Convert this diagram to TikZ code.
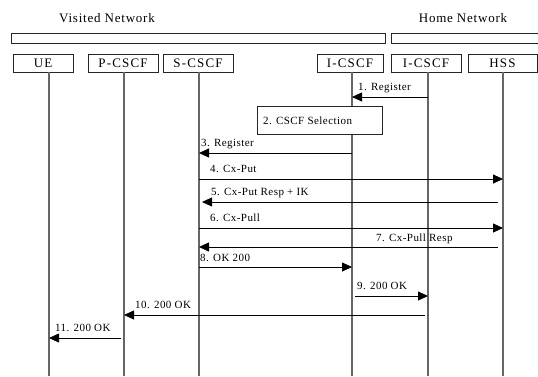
\documentclass[tikz,border=0pt]{standalone}
\usepackage{fontspec}
\setmainfont{Liberation Serif}
\usetikzlibrary{arrows.meta}
\begin{document}
\begin{tikzpicture}[x=1pt,y=-1pt,
  ent/.style={draw=black!85,line width=0.8pt,minimum height=18pt,inner sep=0pt,font=\fontsize{13}{13}\selectfont\addfontfeature{LetterSpace=9}},
  bar/.style={draw=black!85,line width=0.8pt},
  life/.style={draw=black!60,line width=1.3pt},
  msg/.style={draw=black,line width=0.8pt,-{Triangle[length=10pt,width=9pt]}},
  lbl/.style={anchor=base west,inner sep=0pt,font=\fontsize{11}{11}\selectfont\addfontfeature{LetterSpace=4}},
  hdr/.style={inner sep=0pt,font=\fontsize{13}{13}\selectfont\addfontfeature{LetterSpace=6}}]
\useasboundingbox (0,0) rectangle (538,376);
% headers
\node[hdr] (vn) at (107,18) {Visited Network};
\node[hdr] (hn) at (463,18) {Home Network};
\draw[bar] (11,33) rectangle (385,43);
\draw[bar] (391,33) rectangle (545,43);
% entity boxes
\node[ent,minimum width=60pt] (ue) at (43,63) {UE};
\node[ent,minimum width=70pt] (pc) at (123,63) {P-CSCF};
\node[ent,minimum width=70pt] (sc) at (198,63) {S-CSCF};
\node[ent,minimum width=66pt] (ic1) at (350,63) {I-CSCF};
\node[ent,minimum width=70pt] (ic2) at (426,63) {I-CSCF};
\node[ent,minimum width=69pt] (hss) at (502.5,63) {HSS};
% lifelines
\coordinate (Lue) at (49,72);  \coordinate (Bue) at (49,376);
\coordinate (Lpc) at (124,72); \coordinate (Bpc) at (124,376);
\coordinate (Lsc) at (199,72); \coordinate (Bsc) at (199,376);
\coordinate (Lic1) at (352,72); \coordinate (Bic1) at (352,376);
\coordinate (Lic2) at (428,72); \coordinate (Bic2) at (428,376);
\coordinate (Lhss) at (503,72); \coordinate (Bhss) at (503,376);
\foreach \n in {ue,pc,sc,ic1,ic2,hss} \draw[life] (L\n) -- (B\n);
% step 2 box
\node[draw=black!85,line width=0.8pt,fill=white,minimum width=125pt,minimum height=28pt,inner sep=0pt] (sel) at (319.5,120) {};
\node[lbl] (sell) at (263,124) {2. CSCF Selection};
% messages
\draw[msg] (Lic2 |- 0,97) -- (Lic1 |- 0,97);
\node[lbl] (m1) at (358,90) {1. Register};
\draw[msg] (Lic1 |- 0,153) -- (Lsc |- 0,153);
\node[lbl] (m3) at (201,146) {3. Register};
\draw[msg] (Lsc |- 0,179) -- (Lhss |- 0,179);
\node[lbl] (m4) at (210,172) {4. Cx-Put};
\draw[msg] ([xshift=-5pt]Lhss |- 0,202) -- ([xshift=3pt]Lsc |- 0,202);
\node[lbl] (m5) at (211,195) {5. Cx-Put Resp + IK};
\draw[msg] (Lsc |- 0,228) -- (Lhss |- 0,228);
\node[lbl] (m6) at (210,221) {6. Cx-Pull};
\draw[msg] ([xshift=-5pt]Lhss |- 0,247) -- (Lsc |- 0,247);
\node[lbl] (m7) at (376,241) {7. Cx-Pull Resp};
\draw[msg] (Lsc |- 0,267) -- (Lic1 |- 0,267);
\node[lbl] (m8) at (200,261) {8. OK 200};
\draw[msg] ([xshift=3pt]Lic1 |- 0,296) -- (Lic2 |- 0,296);
\node[lbl] (m9) at (357,289) {9. 200 OK};
\draw[msg] ([xshift=-3pt]Lic2 |- 0,315) -- (Lpc |- 0,315);
\node[lbl] (m10) at (135,308) {10. 200 OK};
\draw[msg] ([xshift=-3pt]Lpc |- 0,338) -- (Lue |- 0,338);
\node[lbl] (m11) at (55,331) {11. 200 OK};
\end{tikzpicture}
\end{document}
